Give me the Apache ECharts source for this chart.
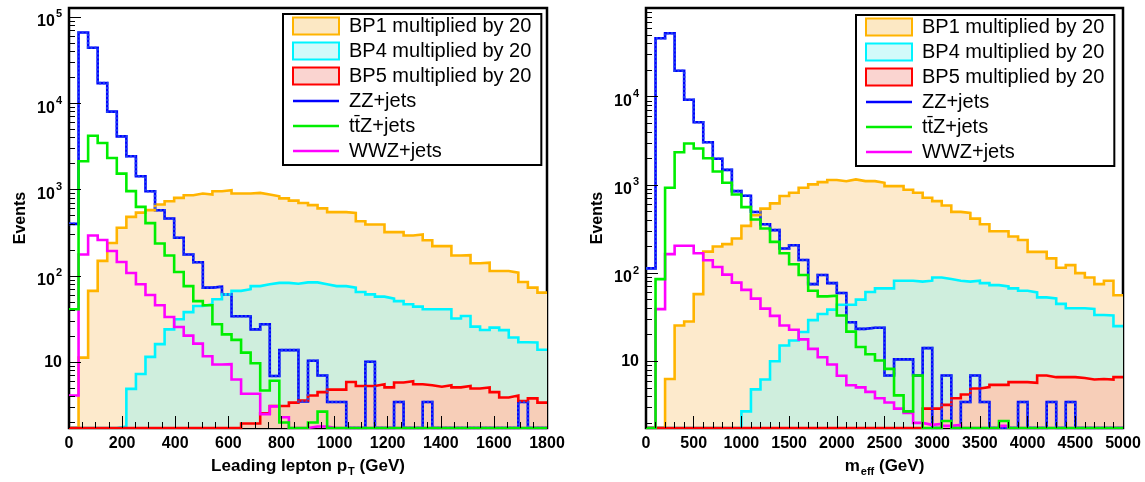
<!DOCTYPE html>
<html><head><meta charset="utf-8">
<script src="https://cdn.jsdelivr.net/npm/echarts@6/dist/echarts.min.js"></script>
<style>html,body{margin:0;padding:0;background:#fff}#c{width:1145px;height:482px}</style>
</head><body><div id="c"></div><script>
// ---------------- data ----------------
const ptBinWidth = 36;      // GeV per bin, left panel (0-1800 GeV, 50 bins)
const meffBinWidth = 100;   // GeV per bin, right panel (0-5000 GeV, 50 bins)
const ptXTicks = [0, 200, 400, 600, 800, 1000, 1200, 1400, 1600, 1800];
const meffXTicks = [0, 500, 1000, 1500, 2000, 2500, 3000, 3500, 4000, 4500, 5000];
const ptYLabels = [10, 100, 1000, 10000, 100000];
const meffYLabels = [10, 100, 1000, 10000];
const seriesNames = ['BP1 multiplied by 20', 'BP4 multiplied by 20', 'BP5 multiplied by 20', 'ZZ+jets', 't\u0074\u0304Z+jets', 'WWZ+jets'];

// Leading lepton pT panel (events per bin, 0 = empty bin)
const ptBP1 = [0,11.3,67,149,240,361,483,540,577,670, 733,800,860,899,875,957,982,899,899,914,
  875,837,790,745,700,660,605,547,547,537, 430,394,394,321,321,294,302,259,221,221,
  172,174,140,142,114,114,109,85,73,64];
const ptBP4 = [0,0,0,0,0,1.8,4.9,7.3,11.5,16.2, 24,31.4,38,44.8,47,53.5,61,67,70,76,
  80,83,83,81,84,84,80,76,76,73, 65,61,57.4,54.5,51,46.8,44,41,41,41,
  32,34.3,25.8,23.6,25.1,23.5,19.3,17,16.9,13.9];
const ptBP5 = [0,0,0,0,0,0,0,0,0,0, 0,0,0,0,0,0,0,0,1.95,1.95,
  2.55,3.1,3.1,3.4,3.6,4.1,4.5,4.8,4.8,5.9, 5.3,5.3,5.55,5.1,5.8,6.0,5.55,5.4,5.2,5.4,
  5.1,5.3,4.95,5.1,4.5,3.9,4.1,3.55,3.8,3.4];
const ptZZ = [400,66000,44000,17100,8000,4130,2430,1425,955,575, 462,276,177,144,73,75,61,34,34,24,
  27.5,6.9,13.8,13.8,3.5,10.4,7,3.45,3.45,0, 0,10.1,0,0,3.45,0,0,3.45,0,0,
  0,0,0,0,0,0,0,3.45,0,0];
const ptTTZ = [41,2125,4200,3470,2325,1530,960,630,408,237, 172,111,76,51,45.6,27.5,21,18.1,12.9,9.7,
  4.7,6.1,2.0,0,0,2.0,2.67,0,0,0, 0,0,0,0,0,0,0,0,0,0, 0,0,0,0,0,0,0,0,0,0];
const ptWWZ = [4.1,177,294,260,194,145,108,80,60,45.6, 33.3,25.5,20.3,16.4,11.7,9.4,9.5,6.3,4.3,4.3,
  2.5,3.07,2.3,0,0,1.8,1.8,0,0,0, 0,0,0,0,0,0,0,0,0,0, 0,0,0,0,0,0,0,0,0,0];

// m_eff panel
const meffBP1 = [0,0,6.3,25.4,28.2,57.8,175,200,213,247, 343,452,538,618,748,815,929,1013,1076,1135,
  1100,1155,1104,1104,1057,970,970,880,815,715, 655,585,495,480,415,358,298,298,260,237,
  174,174,147,115,123,100,89,75,82,56];
const meffBP4 = [0,0,0,0,0,0,0,0,0,0, 2.7,4.8,6.2,10,15.1,17.2,21.5,29.3,34.4,38.5,
  43.7,43.7,50,61,67,67,82,82,80,82, 89,85.5,82,80,82,77,73,70.6,67,63,
  60.4,53,51.7,44.7,39.9,39.9,39.2,33.5,33,25];
const meffBP5 = [0,0,0,0,0,0,0,0,0,0, 0,0,0,0,0,0,0,0,0,0, 0,0,0,0,0,0,0,0,0,2.9,
  2.9,3.2,3.8,4.2,4.9,5.1,5.4,5.4,5.8,5.8, 5.7,6.9,6.6,6.6,6.6,6.45,6.2,6.3,6.2,6.6];
const meffZZ = [113,46000,52400,19700,9250,5130,3050,1977,1480,851, 755,493,358,307,190,207,141,75,95,77,
  59.4,27.7,23.3,24,24,6.9,10.5,10.5,6.9,14.1, 0,6.9,0,3.45,6.9,3.45,0,0,0,3.45,
  0,0,3.45,0,3.45,0,0,0,0,0];
const meffTTZ = [0,85.5,929,2350,2945,2585,2010,1420,1057,780, 560,405,320,226,168,126,95,63,54.5,55.4,
  33,21.7,14.5,12,10.2,8.2,4.1,2.7,6.9,0, 0,2.1,0,0,0,0,0,2.1,0,0, 0,0,0,0,0,0,0,0,0,0];
const meffWWZ = [0,39,164,204,204,168,140,117,96,78, 64.5,51.3,39.5,32.7,25.4,22.8,17.7,13.8,11.1,9.2,
  6.85,5.35,5.05,4.5,3.8,3.4,2.9,2.6,2.0,1.9, 1.95,1.85,1.9,0,0,0,0,1.85,0,0, 0,0,0,0,0,0,0,0,0,0];

// ---------------- styling ----------------
const FONT = "'Liberation Sans', Arial, Helvetica, sans-serif";
const COL = { bp1: '#ffb400', bp4: '#00f4ff', bp5: '#ff0000', zz: '#0000ff', ttz: '#00ee00', wwz: '#ff00ff' };
const FILL = { bp1: 'rgb(253,234,204)', bp4: 'rgb(207,238,221)', bp5: 'rgb(247,206,184)' };
const ZZ_DOTS = 'rgba(40,80,240,0.8)';
const RANGE = { pt: [1.726, 127000], meff: [1.75, 101500] };

function stepData(values, width, floor) {
  const pts = values.map((v, i) => [i * width, v > 0 ? v : floor]);
  const last = values[values.length - 1];
  pts.push([values.length * width, last > 0 ? last : floor]);
  return pts;
}
function hist(name, values, width, panel, color, fill, dash) {
  const floor = panel === 0 ? RANGE.pt[0] : RANGE.meff[0];
  const s = {
    name: name, type: 'line', xAxisIndex: panel, yAxisIndex: panel * 2,
    step: 'end', symbol: 'none', showSymbol: false, silent: true, animation: false,
    data: stepData(values, width, floor),
    lineStyle: { color: color, width: 2.6, join: 'miter', cap: 'butt', type: dash || 'solid' },
    itemStyle: { color: color }
  };
  if (fill) s.areaStyle = { color: fill, opacity: 1, origin: 'start' };
  return s;
}

function minorLogTicks(lo, hi) {
  const out = [];
  for (let e = 0; e <= 5; e++) for (let k = 2; k <= 9; k++) {
    const v = k * Math.pow(10, e);
    if (v > lo && v < hi) out.push(v);
  }
  return out;
}

const yRich = {
  b: { fontSize: 16, fontWeight: 'bold', fontFamily: FONT, color: '#000', lineHeight: 16, padding: [5, 0, 0, 0], verticalAlign: 'top' },
  s: { fontSize: 11, fontWeight: 'bold', fontFamily: FONT, color: '#000', lineHeight: 11, verticalAlign: 'top', padding: [0, 0, 0, 1] },
  c: { fontSize: 16, fontWeight: 'bold', fontFamily: FONT, color: '#000', lineHeight: 16 }
};
function yFmt(v) {
  const e = Math.round(Math.log10(v));
  return e === 1 ? '{c|10}' : '{b|10}{s|' + e + '}';
}

function xAxis(grid, max, interval, minorSplit, nameRich) {
  return {
    type: 'value', gridIndex: grid, min: 0, max: max, interval: interval, z: 10,
    axisLine: { show: false },
    axisTick: { show: true, inside: true, length: 12, lineStyle: { color: '#000', width: 1 } },
    minorTick: { show: true, inside: true, splitNumber: minorSplit, length: 6, lineStyle: { color: '#000', width: 1 } },
    splitLine: { show: false }, minorSplitLine: { show: false },
    axisLabel: { fontSize: 16, fontWeight: 'bold', fontFamily: FONT, color: '#000', margin: 8,
      showMaxLabel: true, showMinLabel: true, formatter: v => String(v) },
    name: nameRich, nameLocation: 'middle', nameGap: 30,
    nameTextStyle: {
      fontFamily: FONT, color: '#000',
      rich: {
        m: { fontSize: 17, fontWeight: 'bold', fontFamily: FONT, color: '#000', lineHeight: 17, verticalAlign: 'top' },
        s: { fontSize: 11, fontWeight: 'bold', fontFamily: FONT, color: '#000', lineHeight: 11, verticalAlign: 'top', padding: [8, 0, 0, 1] }
      }
    }
  };
}
function yAxes(grid, range, labels) {
  return [{
    type: 'log', gridIndex: grid, position: 'left', min: range[0], max: range[1], logBase: 10, z: 10,
    axisLine: { show: false },
    axisTick: { show: true, inside: true, length: 12, customValues: labels, lineStyle: { color: '#000', width: 1 } },
    axisLabel: { customValues: labels, formatter: yFmt, rich: yRich, margin: 7 },
    splitLine: { show: false },
    name: 'Events', nameLocation: 'middle', nameGap: 40,
    nameTextStyle: { fontSize: 16, fontWeight: 'bold', fontFamily: FONT, color: '#000' }
  }, {
    type: 'log', gridIndex: grid, position: 'left', offset: 0, min: range[0], max: range[1], logBase: 10, z: 10,
    axisLine: { show: false },
    axisTick: { show: true, inside: true, length: 6, customValues: minorLogTicks(range[0], range[1]), lineStyle: { color: '#000', width: 1 } },
    axisLabel: { show: false }, splitLine: { show: false }
  }];
}

const LINE_ICON = 'path://M0,0M46,17M0,7.2H46V9.8H0Z';
function legend(left, top) {
  return {
    orient: 'vertical', left: left, top: top, selectedMode: false, z: 20,
    itemWidth: 46, itemHeight: 17, itemGap: 5,
    padding: [2, 10, 4, 9], borderColor: '#000', borderWidth: 2, backgroundColor: '#fff',
    textStyle: { fontFamily: FONT, fontSize: 20, color: '#000', padding: [0, 0, 0, 5] },
    data: [
      { name: seriesNames[0], icon: 'rect', itemStyle: { color: 'rgb(252,232,196)', borderColor: COL.bp1, borderWidth: 2 } },
      { name: seriesNames[1], icon: 'rect', itemStyle: { color: 'rgb(210,250,250)', borderColor: COL.bp4, borderWidth: 2 } },
      { name: seriesNames[2], icon: 'rect', itemStyle: { color: 'rgb(250,212,208)', borderColor: COL.bp5, borderWidth: 2 } },
      { name: seriesNames[3], icon: LINE_ICON, itemStyle: { color: COL.zz, borderWidth: 0 } },
      { name: seriesNames[4], icon: LINE_ICON, itemStyle: { color: COL.ttz, borderWidth: 0 } },
      { name: seriesNames[5], icon: LINE_ICON, itemStyle: { color: COL.wwz, borderWidth: 0 } }
    ]
  };
}

function panelSeries(panel, w, bp1, bp4, bp5, zz, ttz, wwz) {
  return [
    hist(seriesNames[3], zz, w, panel, COL.zz, null),
    hist(seriesNames[0], bp1, w, panel, COL.bp1, FILL.bp1),
    hist(seriesNames[1], bp4, w, panel, COL.bp4, FILL.bp4),
    hist(seriesNames[2], bp5, w, panel, COL.bp5, FILL.bp5),
    // ZZ seen through the signal fill pattern (ROOT draws it underneath the hatched fills)
    hist(seriesNames[3], zz, w, panel, ZZ_DOTS, null, [2, 2]),
    hist(seriesNames[5], wwz, w, panel, COL.wwz, null),
    hist(seriesNames[4], ttz, w, panel, COL.ttz, null)
  ];
}

const option = {
  animation: false,
  backgroundColor: '#fff',
  textStyle: { fontFamily: FONT },
  grid: [
    { left: 69, top: 8, width: 478, height: 421, show: true, borderColor: '#000', borderWidth: 2.5, backgroundColor: 'transparent' },
    { left: 646, top: 8, width: 477, height: 421, show: true, borderColor: '#000', borderWidth: 2.5, backgroundColor: 'transparent' }
  ],
  xAxis: [
    xAxis(0, ptXTicks[ptXTicks.length - 1], ptXTicks[1] - ptXTicks[0], 4, '{m|Leading lepton p}{s|T}{m| (GeV)}'),
    xAxis(1, meffXTicks[meffXTicks.length - 1], meffXTicks[1] - meffXTicks[0], 5, '{m|m}{s|eff}{m| (GeV)}')
  ],
  yAxis: yAxes(0, RANGE.pt, ptYLabels).concat(yAxes(1, RANGE.meff, meffYLabels)),
  legend: [legend(283, 14), legend(856, 15)],
  series: panelSeries(0, ptBinWidth, ptBP1, ptBP4, ptBP5, ptZZ, ptTTZ, ptWWZ)
    .concat(panelSeries(1, meffBinWidth, meffBP1, meffBP4, meffBP5, meffZZ, meffTTZ, meffWWZ))
};

const chart = echarts.init(document.getElementById('c'), null, { renderer: 'canvas' });
chart.setOption(option);
</script></body></html>
